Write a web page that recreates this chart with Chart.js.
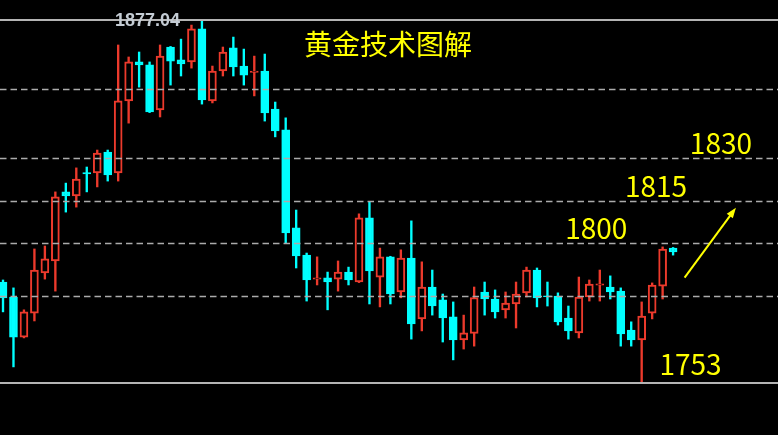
<!DOCTYPE html>
<html lang="zh">
<head>
    <meta charset="UTF-8">
    <title>黄金技术图解</title>
    <script src="https://cdn.jsdelivr.net/npm/chart.js"></script>
    <style>
        html, body { margin: 0; padding: 0; background: #000; }
        #goldChart { display: block; background: #000; }
    </style>
</head>
<body>
    <canvas id="goldChart" width="778" height="435"></canvas>

    <script>
        // Candle data (one entry per bar)
        const opens = [
            1787.5, 1782.4, 1768.7, 1776.9, 1790.6, 1794.7, 1818.3, 1816.9, 1824.9, 1824.8,
            1831.9, 1824.8, 1849.4, 1862.7, 1861.7, 1846.3, 1867.8, 1863.4, 1862.7, 1874.0,
            1849.4, 1859.6, 1867.5, 1861.3, 1859.1, 1859.6, 1846.6, 1839.5, 1806.0, 1796.7,
            1788.5, 1788.9, 1788.5, 1790.9, 1787.5, 1809.4, 1789.2, 1796.1, 1784.1, 1795.7,
            1774.9, 1785.8, 1781.4, 1775.6, 1767.7, 1769.9, 1784.1, 1781.7, 1778.0, 1780.0,
            1783.8, 1791.6, 1782.8, 1782.7, 1775.2, 1770.1, 1782.4, 1786.4, 1785.8, 1784.4,
            1771.1, 1767.7, 1776.9, 1786.1, 1799.1
        ];
        const highs = [
            1788.2, 1785.5, 1778.0, 1798.8, 1799.8, 1818.3, 1821.3, 1826.5, 1826.8, 1832.6,
            1832.6, 1868.5, 1864.4, 1866.1, 1862.7, 1868.5, 1868.0, 1870.5, 1875.3, 1877.04,
            1861.3, 1867.8, 1871.2, 1867.1, 1864.7, 1865.4, 1849.0, 1843.6, 1812.1, 1797.4,
            1796.1, 1790.9, 1794.7, 1792.6, 1810.8, 1814.9, 1799.1, 1796.3, 1798.5, 1808.4,
            1794.4, 1791.6, 1783.4, 1780.7, 1776.2, 1785.8, 1787.5, 1784.8, 1784.1, 1787.5,
            1792.6, 1792.3, 1787.5, 1783.8, 1779.3, 1789.2, 1788.2, 1791.6, 1789.6, 1785.5,
            1773.9, 1780.7, 1787.2, 1799.5, 1799.3
        ];
        const lows = [
            1777.3, 1758.5, 1768.4, 1774.2, 1788.5, 1784.4, 1811.4, 1813.1, 1818.3, 1820.0,
            1822.0, 1822.0, 1841.8, 1854.1, 1845.4, 1843.9, 1854.8, 1857.9, 1860.6, 1848.3,
            1848.7, 1857.9, 1857.9, 1854.8, 1851.1, 1842.5, 1837.1, 1800.8, 1792.3, 1781.0,
            1786.5, 1778.0, 1784.4, 1786.5, 1787.3, 1780.0, 1779.0, 1780.0, 1782.1, 1768.0,
            1770.8, 1776.2, 1767.0, 1760.9, 1764.6, 1765.6, 1776.2, 1775.2, 1775.2, 1771.8,
            1782.4, 1779.0, 1779.3, 1772.8, 1768.0, 1768.4, 1781.0, 1781.0, 1781.7, 1765.6,
            1765.6, 1753.0, 1774.9, 1781.7, 1796.7
        ];
        const closes = [
            1782.1, 1768.7, 1777.3, 1791.6, 1795.4, 1816.6, 1816.9, 1822.7, 1824.4, 1831.6,
            1824.1, 1849.4, 1862.7, 1861.7, 1845.6, 1864.7, 1863.0, 1862.0, 1874.0, 1849.7,
            1859.6, 1866.1, 1861.0, 1858.2, 1859.6, 1845.3, 1839.1, 1804.3, 1796.4, 1788.2,
            1788.9, 1787.5, 1790.9, 1788.2, 1809.4, 1791.3, 1796.1, 1783.4, 1795.7, 1773.2,
            1785.8, 1779.3, 1775.2, 1767.7, 1770.1, 1782.2, 1781.7, 1777.3, 1780.3, 1783.4,
            1791.6, 1782.1, 1782.5, 1773.9, 1770.8, 1782.4, 1786.8, 1786.9, 1784.1, 1769.8,
            1767.7, 1775.9, 1786.5, 1798.8, 1797.8
        ];

        // Reference levels
        const topLevel = 1877.04;
        const bottomLevel = 1753;
        const dashedLevels = [1853.5, 1829.9, 1815.1, 1800.7, 1782.7];

        // Yellow notes (bar index, price) and arrow
        const noteTexts = ['1830', '1815', '1800', '1753'];
        const noteBars = [65.6, 59.4, 53.7, 62.7];
        const notePrices = [1835.0, 1820.3, 1806.0, 1759.2];
        const arrowBars = [65.1, 70.0];
        const arrowPrices = [1789.0, 1812.9];

        const RED = '#ec3a2c';
        const CYAN = '#00ffff';

        const isUp = closes.map((c, i) => c > opens[i]);
        const wickData = highs.map((h, i) => ({ x: i, y: [lows[i], h] }));
        const bodyData = opens.map((o, i) => ({ x: i, y: [o, closes[i]] }));

        const overlay = {
            id: 'overlay',
            afterDatasetsDraw(chart) {
                const { ctx, chartArea, scales: { x, y } } = chart;
                ctx.save();

                // dashed support / resistance lines
                ctx.strokeStyle = '#ababab';
                ctx.lineWidth = 1.6;
                ctx.setLineDash([6.5, 4]);
                dashedLevels.forEach(level => {
                    const py = Math.round(y.getPixelForValue(level)) + 0.5;
                    ctx.beginPath();
                    ctx.moveTo(chartArea.left, py);
                    ctx.lineTo(chartArea.right, py);
                    ctx.stroke();
                });

                // solid high / low lines
                ctx.setLineDash([]);
                ctx.strokeStyle = '#b4b4b4';
                ctx.lineWidth = 2;
                [topLevel, bottomLevel].forEach(level => {
                    const py = Math.round(y.getPixelForValue(level));
                    ctx.beginPath();
                    ctx.moveTo(chartArea.left, py);
                    ctx.lineTo(chartArea.right, py);
                    ctx.stroke();
                });

                // high value label on the top line
                ctx.font = 'bold 18px "Liberation Sans", Arial, sans-serif';
                ctx.fillStyle = '#c4ccd4';
                ctx.textAlign = 'left';
                ctx.textBaseline = 'middle';
                ctx.fillText(topLevel.toFixed(2), 115, y.getPixelForValue(topLevel) + 1);

                // title
                ctx.font = '28px "Noto Sans CJK SC", sans-serif';
                ctx.fillStyle = '#ffff00';
                ctx.fillText('黄金技术图解', 304, 44);

                // level notes
                ctx.font = '28px "Noto Sans CJK SC", "Noto Sans", sans-serif';
                noteTexts.forEach((t, i) => {
                    ctx.fillText(t, x.getPixelForValue(noteBars[i]), y.getPixelForValue(notePrices[i]));
                });

                // arrow
                const x0 = x.getPixelForValue(arrowBars[0]);
                const y0 = y.getPixelForValue(arrowPrices[0]);
                const x1 = x.getPixelForValue(arrowBars[1]);
                const y1 = y.getPixelForValue(arrowPrices[1]);
                const ang = Math.atan2(y1 - y0, x1 - x0);
                const head = 11;
                ctx.strokeStyle = '#ffff00';
                ctx.lineWidth = 2;
                ctx.beginPath();
                ctx.moveTo(x0, y0);
                ctx.lineTo(x1 - Math.cos(ang) * head * 0.8, y1 - Math.sin(ang) * head * 0.8);
                ctx.stroke();
                ctx.beginPath();
                ctx.moveTo(x1, y1);
                ctx.lineTo(x1 - head * Math.cos(ang - 0.35), y1 - head * Math.sin(ang - 0.35));
                ctx.lineTo(x1 - head * Math.cos(ang + 0.35), y1 - head * Math.sin(ang + 0.35));
                ctx.closePath();
                ctx.fill();

                ctx.restore();
            }
        };

        new Chart(document.getElementById('goldChart'), {
            type: 'bar',
            data: {
                datasets: [
                    {
                        label: 'wick',
                        data: wickData,
                        backgroundColor: isUp.map(u => u ? RED : CYAN),
                        borderWidth: 0,
                        barThickness: 1.7,
                        grouped: false,
                        order: 2
                    },
                    {
                        label: 'body',
                        data: bodyData,
                        backgroundColor: isUp.map(u => u ? '#000000' : CYAN),
                        borderColor: isUp.map(u => u ? RED : CYAN),
                        borderWidth: 2,
                        borderSkipped: false,
                        barThickness: 8,
                        grouped: false,
                        order: 1
                    }
                ]
            },
            options: {
                responsive: false,
                animation: false,
                devicePixelRatio: 1,
                layout: { padding: 0 },
                scales: {
                    x: { type: 'linear', min: -0.287, max: 74.02, offset: false, display: false },
                    y: { min: 1735.23, max: 1883.87, display: false }
                },
                plugins: {
                    legend: { display: false },
                    tooltip: { enabled: false }
                }
            },
            plugins: [overlay]
        });
    </script>
</body>
</html>
